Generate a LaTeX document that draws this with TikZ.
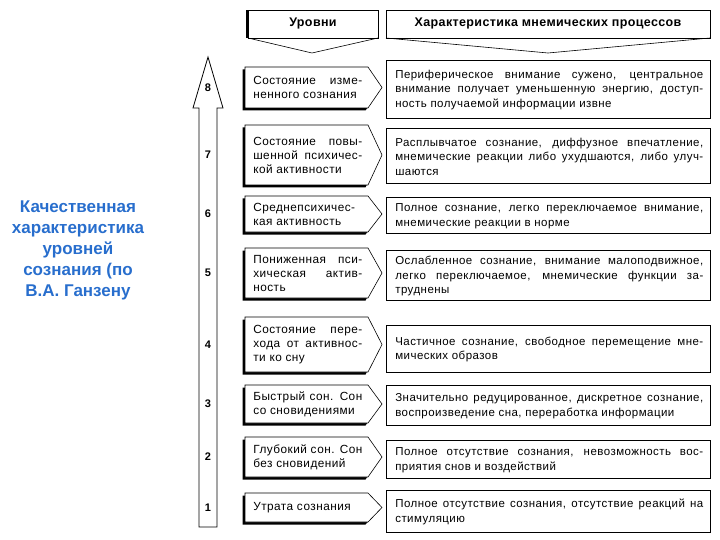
\documentclass[tikz,border=0pt]{standalone}
\usepackage{fontspec}
\setmainfont{Liberation Sans}
\definecolor{titleblue}{RGB}{40,110,205}
\begin{document}
\begin{tikzpicture}[x=1pt,y=-1pt,line width=0.6pt,
  lvtext/.style={anchor=west, align=justify, text width=109pt, inner sep=0pt, font=\fontsize{11.8}{14}\selectfont\addfontfeature{LetterSpace=4}},
  chtext/.style={anchor=west, align=justify, text width=308pt, inner sep=0pt, font=\fontsize{11.5}{14.5}\selectfont\addfontfeature{LetterSpace=4}},
  headtext/.style={inner sep=0pt, font=\fontsize{12.5}{14}\selectfont\bfseries\addfontfeature{LetterSpace=3}},
  numtext/.style={inner sep=0pt, font=\fontsize{11}{13}\selectfont\bfseries}]
  \useasboundingbox (0,0) rectangle (720,540);
  % header
  \fill (245.5,10) rectangle (378,38);
  \filldraw[fill=white] (248,10) rectangle (378,38);
  \draw (248,38) -- (312,53) -- (378,38);
  \node[headtext] (hlevels) at (313,24) {Уровни};
  \draw[line width=0.9pt] (386,10) rectangle (710,38);
  \draw (386,38) -- (548,53) -- (710,38);
  \node[headtext] (hchar) at (548,24) {Характеристика мнемических процессов};
  % arrow of levels
  \draw[line width=0.8pt] (199,527) -- (199,108) -- (193,108) -- (208,57) -- (223,108) -- (217,108) -- (217,527) -- cycle;
  % rows
  \foreach \n/\lt/\lb/\rt/\rb/\lvstr/\chstr in {
    8/67/108/60/118/{Состояние изме-\break ненного сознания}/{Периферическое внимание сужено, центральное\break внимание получает уменьшенную энергию, доступ-\break ность получаемой информации извне},
    7/125/185/128/183/{Состояние повы-\break шенной психичес-\break кой активности}/{Расплывчатое сознание, диффузное впечатление,\break мнемические реакции либо ухудшаются, либо улуч-\break шаются},
    6/196/232/197/233/{Среднепсихичес-\break кая активность}/{Полное сознание, легко переключаемое внимание,\break мнемические реакции в норме},
    5/248/298/250/300/{Пониженная пси-\break хическая актив-\break ность}/{Ослабленное сознание, внимание малоподвижное,\break легко переключаемое, мнемические функции за-\break труднены},
    4/317/372/325/372/{Состояние пере-\break хода от активнос-\break ти ко сну}/{Частичное сознание, свободное перемещение мне-\break мических образов},
    3/385/423/385/425/{Быстрый сон. Сон\break со сновидениями}/{Значительно редуцированное, дискретное сознание,\break воспроизведение сна, переработка информации},
    2/437/477/440/478/{Глубокий сон. Сон\break без сновидений}/{Полное отсутствие сознания, невозможность вос-\break приятия снов и воздействий},
    1/493/522/490/532/{Утрата сознания}/{Полное отсутствие сознания, отсутствие реакций на\break стимуляцию}} {
    \fill[shift={(-2.5,2.5)}] (245,\lt) -- (368,\lt) -- (382,{(\lt+\lb)/2}) -- (368,\lb) -- (245,\lb) -- cycle;
    \filldraw[fill=white] (245,\lt) -- (368,\lt) -- (382,{(\lt+\lb)/2}) -- (368,\lb) -- (245,\lb) -- cycle;
    \draw[line width=0.9pt] (386,\rt) rectangle (710,\rb);
    \node[numtext] (num\n) at (208,{(\lt+\lb)/2}) {\n};
    \node[lvtext] (lv\n) at (253,{(\lt+\lb)/2}) {\lvstr};
    \node[chtext] (ch\n) at (395,{(\rt+\rb)/2+1}) {\chstr};
  }
  % title
  \node[align=center, inner sep=0pt, text=titleblue, font=\fontsize{17}{21}\selectfont\bfseries] (title) at (78,250) {Качественная\\характеристика\\уровней\\сознания (по\\В.А. Ганзену};
\end{tikzpicture}
\end{document}
